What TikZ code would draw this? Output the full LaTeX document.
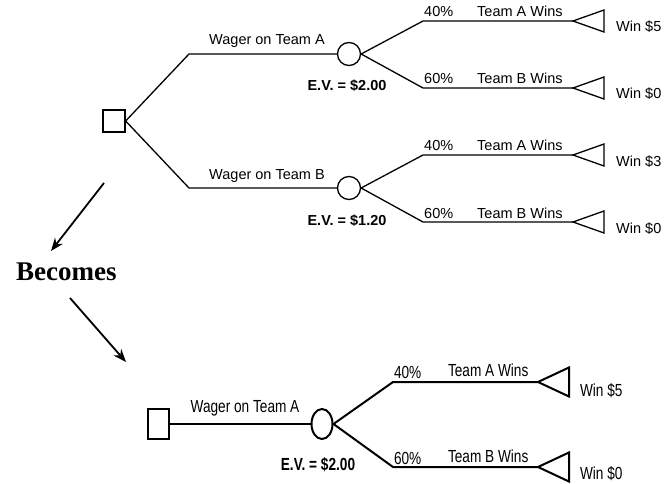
\documentclass[tikz,border=0pt]{standalone}
\usepackage{fontspec}
\setmainfont{Liberation Sans}
\newfontfamily\narrowsf[FakeStretch=0.78]{Liberation Sans}
\newfontfamily\becomesfont{Liberation Serif}
\usetikzlibrary{arrows.meta,shapes.geometric}
\newcommand{\topsize}{\fontsize{14.5pt}{17pt}\selectfont}
\newcommand{\botsize}{\fontsize{17.5pt}{20pt}\narrowsf}

\tikzset{
  decision/.style={draw, rectangle, inner sep=0pt, minimum width=22pt, minimum height=22pt},
  chance/.style={draw, ellipse, inner sep=0pt, minimum width=23pt, minimum height=23pt},
  branch/.style={line width=1.3pt},
  payoff/.pic={\draw (0,0) -- (31,-11) -- (31,11) -- cycle;},
  becomesarrow/.style={line width=1.8pt, -{Stealth[length=13pt,width=10pt]}}
}

\begin{document}
\begin{tikzpicture}[x=1pt, y=-1pt, font=\topsize, line join=miter]
    \useasboundingbox (0,0) rectangle (664,484);

    % Top tree: decision between the two wagers
    \node[decision, branch] (dec) at (114,121) {};
    \foreach \t/\y/\ev/\pay in {A/54/2.00/5, B/188/1.20/3} {
        \node[chance, branch] (ch\t) at (349,\y) {};
        \coordinate (k\t) at (189,\y);
        \draw[branch] (dec.east) -- (k\t) -- (ch\t.west);
        \node[anchor=base] (wag\t) at (267,\y-9) {Wager on Team \t};
        \node[anchor=base, font=\topsize\bfseries] (ev\t) at (347,\y+37) {E.V. = \$\ev};

        % outcomes of the chance node
        \coordinate (up\t) at (423,\y-33);
        \coordinate (dn\t) at (423,\y+34);
        \coordinate (tipup\t) at (573,\y-33);
        \coordinate (tipdn\t) at (573,\y+34);
        \draw[branch] (ch\t.east) -- (up\t) -- (tipup\t);
        \draw[branch] (ch\t.east) -- (dn\t) -- (tipdn\t);
        \pic[branch] at (tipup\t) {payoff};
        \pic[branch] at (tipdn\t) {payoff};
        \node[anchor=base west, inner sep=0pt] (pup\t) at (424,\y-37) {40\%};
        \node[anchor=base west, inner sep=0pt] (pdn\t) at (424,\y+30) {60\%};
        \node[anchor=base west, inner sep=0pt] (wup\t) at (477,\y-37) {Team A Wins};
        \node[anchor=base west, inner sep=0pt] (wdn\t) at (477,\y+30) {Team B Wins};
        \node[anchor=base west, inner sep=0pt] (rup\t) at (616,\y-22) {Win \$\pay};
        \node[anchor=base west, inner sep=0pt] (rdn\t) at (616,\y+45) {Win \$0};
    }

    % Becomes
    \node[anchor=base west, inner sep=0pt, font=\fontsize{27pt}{30pt}\becomesfont\bfseries] (becomes) at (16,280) {Becomes};
    \coordinate (arrAs) at (104,183);
    \coordinate (arrAe) at (51,251);
    \coordinate (arrBs) at (70,298);
    \coordinate (arrBe) at (126,362);
    \draw[becomesarrow] (arrAs) -- (arrAe);
    \draw[becomesarrow] (arrBs) -- (arrBe);

    % Bottom tree: only the better wager is kept
    \begin{scope}[font=\botsize, every path/.style={line width=2pt}]
        \node[decision, line width=2pt, minimum width=21pt, minimum height=30pt] (dec2) at (158,424) {};
        \node[chance, line width=2pt, minimum width=21pt, minimum height=30pt] (ch2) at (322,424) {};
        \draw (dec2.east) -- (ch2.west);
        \node[anchor=base] (wag2) at (245,412) {Wager on Team A};
        \node[anchor=base, font=\botsize\bfseries] (ev2) at (318,470) {E.V. = \$2.00};
        \coordinate (up2) at (393,382);
        \coordinate (dn2) at (393,467);
        \coordinate (tipup2) at (538,382);
        \coordinate (tipdn2) at (538,467);
        \draw (ch2.east) -- (up2) -- (tipup2);
        \draw (ch2.east) -- (dn2) -- (tipdn2);
        \pic[yscale=1.32] at (tipup2) {payoff};
        \pic[yscale=1.32] at (tipdn2) {payoff};
        \node[anchor=base west, inner sep=0pt] (pup2) at (393,378) {40\%};
        \node[anchor=base west, inner sep=0pt] (pdn2) at (393,464) {60\%};
        \node[anchor=base west, inner sep=0pt] (wup2) at (447,376) {Team A Wins};
        \node[anchor=base west, inner sep=0pt] (wdn2) at (447,462) {Team B Wins};
        \node[anchor=base west, inner sep=0pt] (rup2) at (579,396) {Win \$5};
        \node[anchor=base west, inner sep=0pt] (rdn2) at (579,479) {Win \$0};
    \end{scope}
\end{tikzpicture}
\end{document}
